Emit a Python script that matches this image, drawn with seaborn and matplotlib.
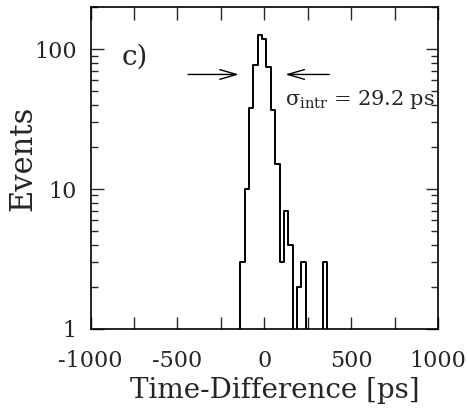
import numpy as np
import matplotlib
matplotlib.use("Agg")
import matplotlib.pyplot as plt
from matplotlib.ticker import MultipleLocator, FuncFormatter, LogLocator, NullFormatter
import seaborn as sns

# Histogramm-Inhalt (25 ps breite Bins, Mittelpunkte in ps)
bin_centers = [-150, -125, -100, -75, -50, -25, 0, 25, 50, 75, 100, 125, 150,
               175, 200, 225, 250, 275, 300, 325, 350, 375]
counts = [0, 3, 10, 38, 77, 126, 119, 75, 37, 15, 3, 7, 4,
          0, 2, 3, 0, 0, 0, 0, 3, 0]

x_ticklabels = [-1000, -500, 0, 500, 1000]
y_ticks = [1, 10, 100]

sns.set_style("ticks")
plt.rcParams['font.family'] = ['DejaVu Serif']
plt.rcParams['mathtext.fontset'] = 'dejavuserif'

fig = plt.figure(figsize=(4.67, 4.19), dpi=100)
ax = fig.add_axes([0.194, 0.215, 0.744, 0.768])

sns.histplot(x=bin_centers, weights=counts, binwidth=25, binrange=(-162.5, 387.5),
             element="step", fill=False, color="black", linewidth=1.4, ax=ax)

ax.set_yscale("log")
ax.set_xlim(-1000, 1000)
ax.set_ylim(1, 200)

# Achsen und Ticks wie im Original (nach innen, alle vier Seiten)
ax.xaxis.set_major_locator(MultipleLocator(250))
ax.xaxis.set_major_formatter(FuncFormatter(lambda v, p: f"{int(v)}" if int(v) in x_ticklabels else ""))
ax.yaxis.set_minor_locator(LogLocator(base=10, subs=np.arange(2, 10), numticks=10))
ax.yaxis.set_minor_formatter(NullFormatter())
ax.set_yticks(y_ticks)
ax.set_yticklabels([str(t) for t in y_ticks])
ax.tick_params(which="both", direction="in", top=True, right=True, labelsize=16)
ax.tick_params(axis="x", pad=15)
ax.tick_params(axis="y", pad=10)
ax.tick_params(which="major", length=9, width=1.0)
ax.tick_params(which="minor", length=5, width=1.0)
for s in ax.spines.values():
    s.set_linewidth(1.2)
    s.set_color("black")

ax.set_xlabel("Time-Difference [ps]", fontsize=20)
ax.set_ylabel("Events", fontsize=22)
ax.xaxis.set_label_coords(0.53, -0.15)
ax.yaxis.set_label_coords(-0.15, 0.53)

ax.text(-820, 88, "c)", fontsize=20, va="center", ha="left")
ax.annotate("", xy=(-130, 66), xytext=(-455, 66),
            arrowprops=dict(arrowstyle="->,head_length=1.2,head_width=0.35", color="black", lw=1.0))
ax.annotate("", xy=(105, 66), xytext=(390, 66),
            arrowprops=dict(arrowstyle="->,head_length=1.2,head_width=0.35", color="black", lw=1.0))
ax.text(119, 44, "σ$_{\\mathrm{intr}}$ = 29.2 ps", fontsize=15, va="center", ha="left")

fig.savefig("out.png", dpi=100)
